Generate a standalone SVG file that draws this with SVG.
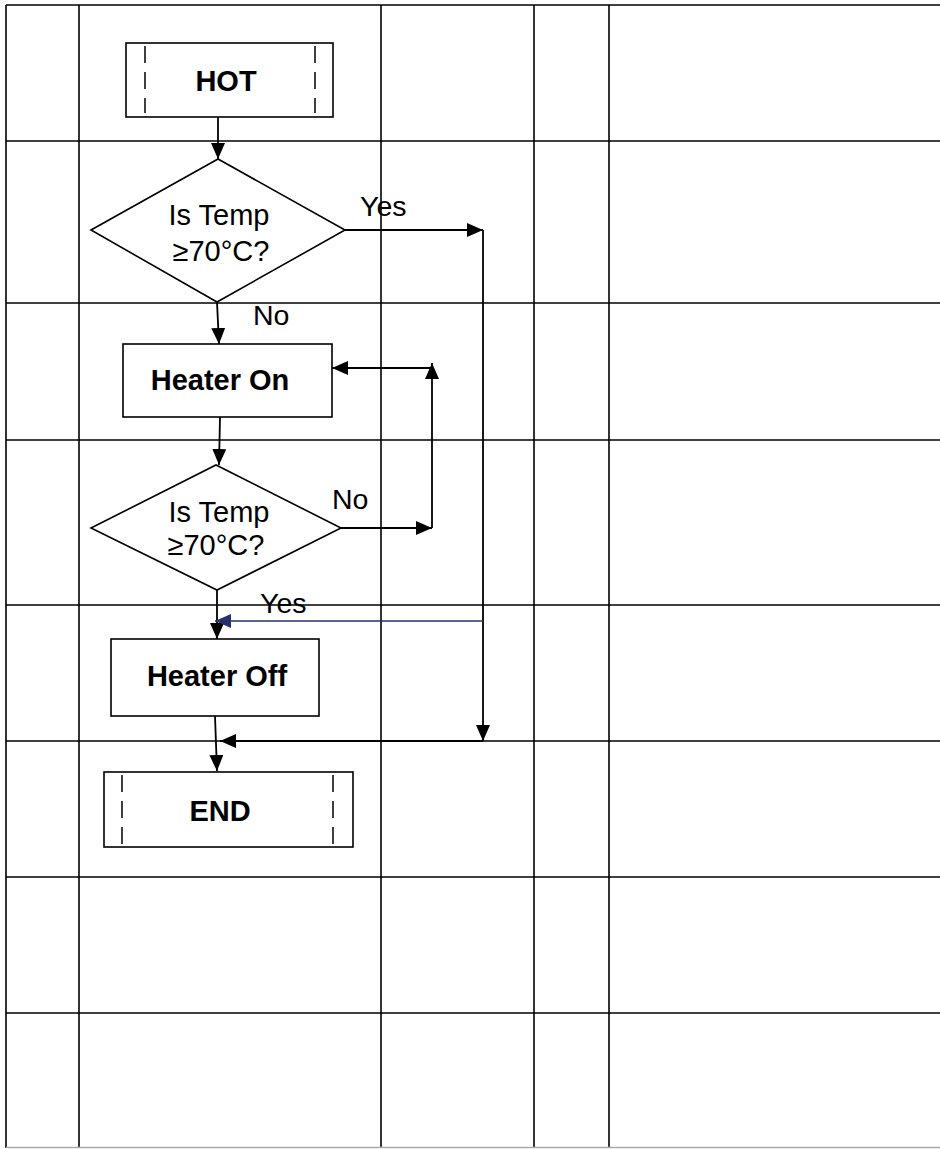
<svg xmlns="http://www.w3.org/2000/svg" width="940" height="1149" viewBox="0 0 940 1149">
<style>
.grid{stroke:#000;stroke-width:1.6;fill:none}
.box{fill:#fff;stroke:#000;stroke-width:1.6}
.dash{stroke:#000;stroke-width:1.5;stroke-dasharray:17 9;fill:none}
.conn{stroke:#000;stroke-width:1.8;fill:none}
.blue{stroke:#26306e;stroke-width:1.3;fill:none}
.lb{font-family:"Liberation Sans",Arial,sans-serif;font-size:29px;font-weight:bold;text-anchor:middle;fill:#000}
.lt{font-family:"Liberation Sans",Arial,sans-serif;font-size:29px;text-anchor:middle;fill:#000}
.lab{font-family:"Liberation Sans",Arial,sans-serif;font-size:28.5px;fill:#000}
</style>
<defs>
<marker id="ah" markerUnits="userSpaceOnUse" markerWidth="17" markerHeight="15" refX="16" refY="7" orient="auto"><path d="M0,0 L16,7 L0,14 z" fill="#000"/></marker>
<marker id="ahb" markerUnits="userSpaceOnUse" markerWidth="17" markerHeight="15" refX="16" refY="7" orient="auto"><path d="M0,0 L16,7 L0,14 z" fill="#26306e"/></marker>
</defs>
<rect x="0" y="0" width="940" height="1149" fill="#fff"/>
<g id="grid" class="grid">
<line x1="6" y1="5" x2="940" y2="5"/>
<line x1="6" y1="141" x2="940" y2="141"/>
<line x1="6" y1="303" x2="940" y2="303"/>
<line x1="6" y1="440" x2="940" y2="440"/>
<line x1="6" y1="605" x2="940" y2="605"/>
<line x1="6" y1="741" x2="940" y2="741"/>
<line x1="6" y1="877" x2="940" y2="877"/>
<line x1="6" y1="1013" x2="940" y2="1013"/>
<line x1="6" y1="5" x2="6" y2="1148"/>
<line x1="79" y1="5" x2="79" y2="1148"/>
<line x1="381" y1="5" x2="381" y2="1148"/>
<line x1="534" y1="5" x2="534" y2="1148"/>
<line x1="609" y1="5" x2="609" y2="1148"/>
<line x1="6" y1="1147.5" x2="940" y2="1147.5" style="stroke:#aaa"/>
</g>
<g id="connectors">
<path class="conn" d="M218,117 L218,159" marker-end="url(#ah)"/>
<path class="conn" d="M217,302 L219,344" marker-end="url(#ah)"/>
<path class="conn" d="M220,417 L219,465" marker-end="url(#ah)"/>
<path class="conn" d="M217,590 L217,639" marker-end="url(#ah)"/>
<path class="conn" d="M215,716 L217,771" marker-end="url(#ah)"/>
<path class="conn" d="M345,230 L483,230" marker-end="url(#ah)"/>
<path class="conn" d="M483,230 L483,741" marker-end="url(#ah)"/>
<path class="conn" d="M483,741 L220,741" marker-end="url(#ah)"/>
<path class="blue" d="M483,621 L215,621" marker-end="url(#ahb)"/>
<path class="conn" d="M341,528 L432,528" marker-end="url(#ah)"/>
<path class="conn" d="M432,528 L432,363" marker-end="url(#ah)"/>
<path class="conn" d="M432,368 L332,368" marker-end="url(#ah)"/>
</g>
<g id="hot">
<rect class="box" x="126" y="43" width="207" height="74"/>
<line class="dash" x1="145" y1="46" x2="145" y2="113"/>
<line class="dash" x1="315" y1="46" x2="315" y2="113"/>
<text class="lb" x="226" y="91">HOT</text>
</g>
<g id="decision1">
<path class="box" d="M91,230 L218,159 L345,230 L217,302 Z"/>
<text class="lt" x="219" y="225">Is Temp</text>
<text class="lt" x="221" y="261">≥70°C?</text>
</g>
<g id="heater-on">
<rect class="box" x="123" y="344" width="209" height="73"/>
<text class="lb" x="220" y="390">Heater On</text>
</g>
<g id="decision2">
<path class="box" d="M91,528 L216,465 L341,528 L217,590 Z"/>
<text class="lt" x="219" y="522">Is Temp</text>
<text class="lt" x="216" y="555">≥70°C?</text>
</g>
<g id="heater-off">
<rect class="box" x="111" y="639" width="208" height="77"/>
<text class="lb" x="217" y="686">Heater Off</text>
</g>
<g id="end">
<rect class="box" x="104" y="772" width="249" height="75"/>
<line class="dash" x1="122" y1="775" x2="122" y2="845"/>
<line class="dash" x1="333" y1="775" x2="333" y2="845"/>
<text class="lb" x="220" y="821">END</text>
</g>
<g id="labels">
<text class="lab" x="360" y="216">Yes</text>
<text class="lab" x="253" y="325">No</text>
<text class="lab" x="332" y="509">No</text>
<text class="lab" x="260" y="613">Yes</text>
</g>
</svg>
